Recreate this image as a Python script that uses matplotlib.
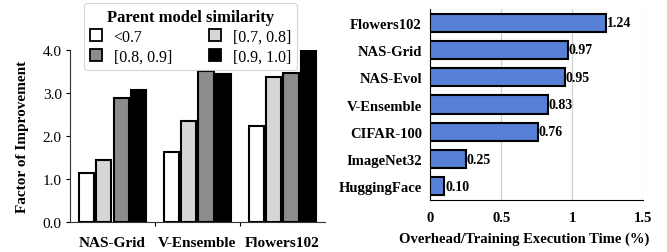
import matplotlib.pyplot as plt
import numpy as np
from matplotlib.patches import Patch

plt.rcParams['font.family'] = ['Liberation Serif', 'DejaVu Serif']

# left chart: factor of improvement per workload and similarity bucket
workloads = ["NAS-Grid", "V-Ensemble", "Flowers102"]
sim_labels = ["<0.7", "[0.7, 0.8]", "[0.8, 0.9]", "[0.9, 1.0]"]
sim_colors = ["white", "#d6d6d6", "#8c8c8c", "black"]
improve_lt07 = [1.13, 1.62, 2.23]
improve_07_08 = [1.43, 2.34, 3.38]
improve_08_09 = [2.88, 3.52, 3.47]
improve_09_10 = [3.07, 3.44, 3.98]

# right chart: overhead share of training time
datasets = ["Flowers102", "NAS-Grid", "NAS-Evol", "V-Ensemble",
            "CIFAR-100", "ImageNet32", "HuggingFace"]
overhead = [1.24, 0.97, 0.95, 0.83, 0.76, 0.25, 0.10]

fig = plt.figure(figsize=(6.67, 2.53), dpi=100)

# ---- left
ax1 = fig.add_axes([0.105, 0.119, 0.382, 0.679])
series = [improve_lt07, improve_07_08, improve_08_09, improve_09_10]
x = np.arange(len(workloads))
pitch = 0.204
width = 0.18
for i, vals in enumerate(series):
    ax1.bar(x + (i - 1.5) * pitch, vals, width, color=sim_colors[i],
            edgecolor="black", linewidth=1.5, zorder=3)

ax1.set_xlim(-0.5, 2.5)
ax1.set_ylim(0, 4.0)
ax1.set_yticks([0, 1, 2, 3, 4])
ax1.set_yticklabels([f"{v:.1f}" for v in [0, 1, 2, 3, 4]], fontsize=11)
ax1.set_xticks(x)
ax1.set_xticklabels(workloads, fontsize=11, fontweight="bold")
ax1.set_xticks([0.5, 1.5], minor=True)
ax1.tick_params(axis="x", which="major", length=0, pad=10)
ax1.tick_params(axis="x", which="minor", length=3, width=0.8, direction="out")
ax1.tick_params(axis="y", length=3, width=0.8, pad=3)
ax1.set_ylabel("Factor of Improvement", fontsize=11, fontweight="bold",
               labelpad=10)
for s in ["top", "right"]:
    ax1.spines[s].set_visible(False)
ax1.spines["left"].set_color("#333333")
ax1.spines["bottom"].set_color("#333333")

handles = [Patch(facecolor=c, edgecolor="black", linewidth=1.3, label=l)
           for c, l in zip(sim_colors, sim_labels)]
order = [0, 2, 1, 3]
leg = ax1.legend([handles[k] for k in order], [sim_labels[k] for k in order],
                 ncol=2, loc="upper left", bbox_to_anchor=(84 / 667, 1 - 4 / 253),
                 bbox_transform=fig.transFigure,
                 fontsize=11.5, title="Parent model similarity",
                 title_fontproperties={"weight": "bold", "size": 12},
                 frameon=True, fancybox=True, edgecolor="#cccccc",
                 handlelength=0.8, handleheight=0.8, handletextpad=0.7,
                 columnspacing=2.3, labelspacing=0.25, borderpad=0.35,
                 borderaxespad=0)
leg.get_frame().set_linewidth(0.8)

# ---- right
ax2 = fig.add_axes([0.645, 0.206, 0.319, 0.754])
y = np.arange(len(datasets))[::-1]
ax2.barh(y, overhead, height=0.67, color="#5580d6", edgecolor="black",
         linewidth=1.5, zorder=3)
for yi, v in zip(y, overhead):
    ax2.text(v + 0.005, yi, f"{v:.2f}", va="center", ha="left",
             fontsize=10, fontweight="bold", zorder=4)
ax2.set_xlim(0, 1.5)
ax2.set_ylim(-0.5, len(datasets) - 0.5)
ax2.set_xticks([0, 0.5, 1, 1.5])
ax2.set_xticklabels(["0", "0.5", "1", "1.5"], fontsize=10.5, fontweight="bold")
ax2.set_yticks(y)
ax2.set_yticklabels(datasets, fontsize=10.5, fontweight="bold")
ax2.tick_params(length=0, pad=8)
ax2.tick_params(axis="y", pad=6)
ax2.grid(axis="x", color="#d0d0d0", linewidth=0.9, zorder=0)
for s in ["top", "right"]:
    ax2.spines[s].set_visible(False)
ax2.set_xlabel("Overhead/Training Execution Time (%)", fontsize=10.5,
               fontweight="bold")
ax2.xaxis.set_label_coords(0.44, -0.165)

fig.savefig("out.png", dpi=100)
